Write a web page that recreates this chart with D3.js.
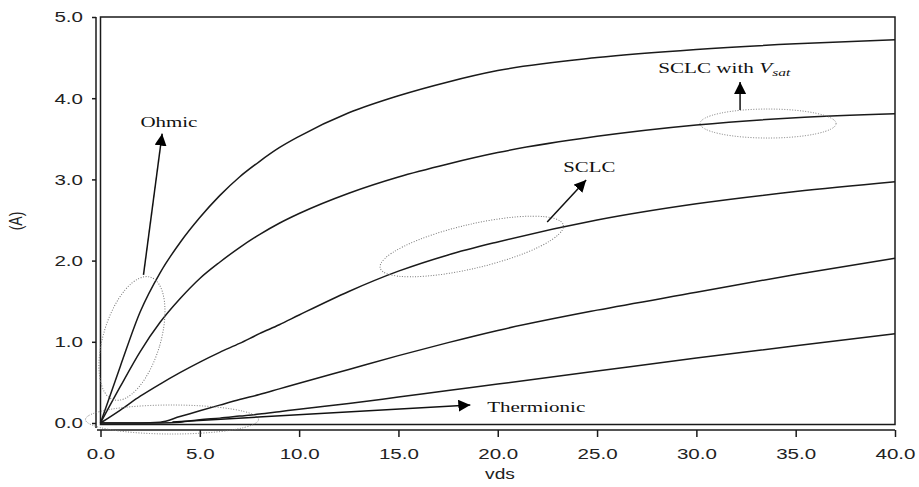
<!DOCTYPE html>
<html>
<head>
<meta charset="utf-8">
<script src="https://cdn.jsdelivr.net/npm/d3@7/dist/d3.min.js"></script>
<style>
  html, body { margin: 0; padding: 0; background: #fff; }
  svg { display: block; }
</style>
</head>
<body>
<svg id="chart" width="919" height="487"></svg>
<script>
// ---- data ----
const vds    = [0, 1, 2, 3, 4, 5, 6, 7, 8, 9, 10, 12.5, 15, 17.5, 20, 25, 30, 35, 40];
const curve1 = [0, 0.70, 1.37, 1.85, 2.22, 2.53, 2.80, 3.03, 3.22, 3.39, 3.53, 3.82, 4.03, 4.20, 4.34, 4.50, 4.60, 4.67, 4.72];
const curve2 = [0, 0.45, 0.88, 1.24, 1.53, 1.78, 1.98, 2.16, 2.32, 2.46, 2.58, 2.83, 3.03, 3.19, 3.33, 3.53, 3.67, 3.76, 3.81];
const curve3 = [0, 0.16, 0.33, 0.48, 0.62, 0.75, 0.87, 0.98, 1.10, 1.21, 1.33, 1.62, 1.87, 2.07, 2.23, 2.50, 2.70, 2.85, 2.97];
const curve4 = [0, 0, 0, 0.01, 0.08, 0.15, 0.22, 0.29, 0.35, 0.42, 0.49, 0.66, 0.83, 0.99, 1.14, 1.39, 1.61, 1.83, 2.03];
const curve5 = [0, 0, 0, 0, 0.01, 0.04, 0.06, 0.085, 0.11, 0.14, 0.17, 0.24, 0.32, 0.40, 0.48, 0.64, 0.80, 0.95, 1.10];
const seriesList = [curve1, curve2, curve3, curve4, curve5];

const xTicks = [0, 5, 10, 15, 20, 25, 30, 35, 40];
const yTicks = [0, 1, 2, 3, 4, 5];
const xTitle = "vds";
const yTitle = "(A)";

// annotations in data units
const ellipses = [
  {cx: 1.585, cy: 1.041, rx: 28.6, ry: 64, rot: 16.7},
  {cx: 3.6,   cy: 0.043, rx: 86.5, ry: 14.5, rot: 0},
  {cx: 18.69, cy: 2.174, rx: 94,   ry: 22,   rot: -13.2},
  {cx: 33.61, cy: 3.688, rx: 68,   ry: 14.5, rot: 0}
];
const arrows = [
  {x1: 2.164, y1: 1.823, x2: 3.104, y2: 3.563},
  {x1: 22.49, y1: 2.475, x2: 24.45, y2: 2.993},
  {x1: 32.2,  y1: 3.855, x2: 32.2,  y2: 4.20},
  {x1: 3.62,  y1: 0.012, x2: 18.62, y2: 0.222}
];
const labels = [
  {text: "Ohmic", x: 2.01, y: 3.645, len: 57},
  {text: "SCLC", x: 23.3, y: 3.091, len: 52},
  {text: "Thermionic", x: 19.47, y: 0.135, len: 98}
];

// ---- layout ----
const svg = d3.select("#chart");
const x = d3.scaleLinear().domain([0, 40]).range([100.5, 895]);
const y = d3.scaleLinear().domain([0, 5]).range([423, 17]);
const ink = "#1a1a1a";
const axisFont = "'Liberation Sans', Arial, sans-serif";
const serif = "'Liberation Serif', 'Times New Roman', serif";
const stretch = 1.37;

// frame
svg.append("rect")
  .attr("x", x(0)).attr("y", y(5))
  .attr("width", x(40) - x(0)).attr("height", 424.5 - y(5))
  .attr("fill", "none").attr("stroke", ink).attr("stroke-width", 1.5);

// y axis
const yAxis = svg.append("g")
  .attr("transform", "translate(96,0)")
  .call(d3.axisLeft(y).tickValues(yTicks).tickFormat(d3.format(".1f"))
        .tickSize(4).tickSizeOuter(0).tickPadding(5.5));
yAxis.select(".domain").attr("stroke", ink).attr("stroke-width", 1.5)
  .attr("d", `M0,${y(5)}V428`);
yAxis.selectAll(".tick line").attr("stroke", ink).attr("stroke-width", 1.5);
yAxis.selectAll(".tick text")
  .attr("font-family", axisFont).attr("font-size", 15)
  .attr("transform", `scale(${stretch},1)`).attr("fill", "#222");

// x axis
const xAxis = svg.append("g")
  .attr("transform", "translate(0,430)")
  .call(d3.axisBottom(x).tickValues(xTicks).tickFormat(d3.format(".1f"))
        .tickSize(7).tickSizeOuter(0).tickPadding(11));
xAxis.select(".domain").attr("stroke", ink).attr("stroke-width", 1.5)
  .attr("d", `M97,0H${x(40)}`);
xAxis.selectAll(".tick line").attr("stroke", ink).attr("stroke-width", 1.5);
xAxis.selectAll(".tick text")
  .attr("font-family", axisFont).attr("font-size", 15)
  .attr("transform", `scale(${stretch},1)`).attr("fill", "#222");

// axis titles
svg.append("text")
  .attr("transform", `translate(500,479) scale(${stretch},1)`)
  .attr("text-anchor", "middle")
  .attr("font-family", axisFont).attr("font-size", 14)
  .attr("fill", "#222")
  .text(xTitle);
svg.append("text")
  .attr("transform", `translate(22,221) scale(${stretch},1) rotate(-90)`)
  .attr("text-anchor", "middle")
  .attr("font-family", axisFont).attr("font-size", 14)
  .attr("fill", "#222")
  .text(yTitle);

// curves
const line = d3.line()
  .x((d, i) => x(vds[i]))
  .y(d => y(d))
  .curve(d3.curveMonotoneX);
svg.append("g").selectAll("path")
  .data(seriesList)
  .join("path")
  .attr("d", line)
  .attr("fill", "none")
  .attr("stroke", ink)
  .attr("stroke-width", 1.5);

// ellipses
svg.append("g").selectAll("ellipse")
  .data(ellipses)
  .join("ellipse")
  .attr("cx", 0).attr("cy", 0)
  .attr("rx", d => d.rx).attr("ry", d => d.ry)
  .attr("transform", d => `translate(${x(d.cx)},${y(d.cy)}) rotate(${d.rot})`)
  .attr("fill", "none")
  .attr("stroke", "#777")
  .attr("stroke-width", 1)
  .attr("stroke-dasharray", "1,1.6");

// arrows
svg.append("defs").append("marker")
  .attr("id", "head")
  .attr("viewBox", "0 0 12 12")
  .attr("refX", 12).attr("refY", 6)
  .attr("markerWidth", 12).attr("markerHeight", 12)
  .attr("markerUnits", "userSpaceOnUse")
  .attr("orient", "auto")
  .append("path")
  .attr("d", "M0,0L12,6L0,12Z")
  .attr("fill", "#000");
svg.append("g").selectAll("line")
  .data(arrows)
  .join("line")
  .attr("x1", d => x(d.x1)).attr("y1", d => y(d.y1))
  .attr("x2", d => x(d.x2)).attr("y2", d => y(d.y2))
  .attr("stroke", "#111")
  .attr("stroke-width", 1.5)
  .attr("marker-end", "url(#head)");

// labels
svg.append("g").selectAll("text")
  .data(labels)
  .join("text")
  .attr("x", d => x(d.x)).attr("y", d => y(d.y))
  .attr("font-family", serif).attr("font-size", 15)
  .attr("textLength", d => d.len).attr("lengthAdjust", "spacingAndGlyphs")
  .attr("fill", "#111")
  .text(d => d.text);

const vs = svg.append("text")
  .attr("x", x(28.08)).attr("y", y(4.31))
  .attr("font-family", serif).attr("font-size", 15)
  .attr("textLength", 132).attr("lengthAdjust", "spacingAndGlyphs")
  .attr("fill", "#111");
vs.append("tspan").text("SCLC with ");
vs.append("tspan").attr("font-style", "italic").text("V");
vs.append("tspan").attr("font-style", "italic").attr("font-size", 11)
  .attr("dy", 3).text("sat");
</script>
</body>
</html>
